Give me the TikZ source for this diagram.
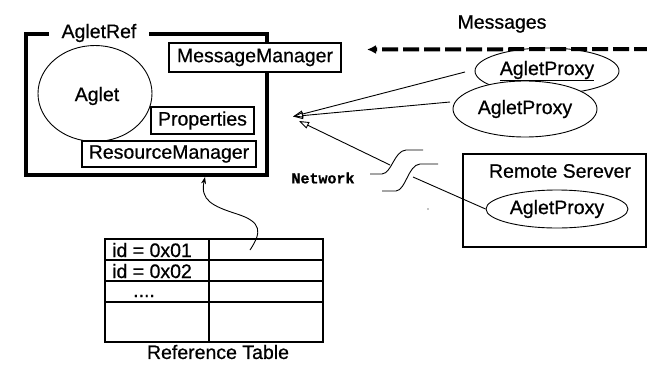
\documentclass[tikz,border=0pt]{standalone}
\usepackage{fontspec}
\setmainfont[FakeBold=0.6]{Liberation Sans}
\newfontfamily\netfont[FakeBold=0.8]{Liberation Mono}
\usetikzlibrary{arrows.meta,shapes.geometric}
\begin{document}
\begin{tikzpicture}[x=1pt,y=-1pt,
  txt/.style={font=\fontsize{19.5}{22}\selectfont, inner sep=0pt},
  box/.style={txt, draw, fill=white, line width=1.3pt, minimum height=27pt},
  prox/.style={ellipse, draw, fill=white, line width=0.9pt, txt, minimum width=144pt},
  thinline/.style={line width=0.9pt},
  openhead/.style={thinline, -{Triangle[open,length=10pt,width=7pt,line width=0.9pt]}}
]
\useasboundingbox (0,0) rectangle (647,364);
\fill[white] (0,0) rectangle (647,364);

% AgletRef frame
\node[draw, line width=4pt, minimum width=241.5pt, minimum height=141.5pt, inner sep=0pt] (agletref) at (146.25,104.25) {};
\node[txt, fill=white, inner xsep=13pt, inner ysep=2pt] (reflabel) at (99,33) {AgletRef};

% Aglet
\node[ellipse, draw, thinline, minimum width=114pt, minimum height=96pt, inner sep=0pt, txt] (aglet) at (95,93.5) {};
\node[txt] (agletlbl) at (97,96) {Aglet};

% managers
\node[box, minimum width=172pt, minimum height=29pt] (msgmgr) at (255,57.5) {MessageManager};
\node[box, minimum width=103pt] (props) at (202.5,120.5) {Properties};
\node[box, minimum width=174pt, minimum height=26pt] (resmgr) at (169,154) {ResourceManager};

% Messages
\node[txt] (msglbl) at (502,24) {Messages};
\node[prox, minimum height=46pt] (p1) at (547,71) {\underline{AgletProxy}};
\coordinate (msgsrc) at (650,49);
\coordinate (msgtip) at (367,49.5);
\draw[line width=4pt, dash pattern=on 16pt off 5pt, -{Latex[length=9pt,width=9pt]}] (msgsrc) -- (msgtip);
\node[prox, minimum height=56pt] (p2) at (525,109) {AgletProxy};

% convergence
\coordinate (tipA) at (293,116.5);
\coordinate (tipB) at (299,121);
\coordinate (p1end) at (465,72);
\coordinate (p2end) at (450,102);
\draw[openhead] (p1end) -- (tipA);
\draw[openhead] (p2end) -- (tipA);

% network break
\draw[thinline] (370,174) -- (382,174) .. controls (392,173) and (394,151) .. (406,150) -- (423,150);
\draw[thinline] (382,191) -- (396,191) .. controls (406,190) and (408,165) .. (420,164) -- (438,164);
\coordinate (brkA) at (390,165);
\coordinate (brkB) at (413,177);
\node[font=\netfont\bfseries\fontsize{15}{17}\selectfont, inner sep=0pt] (netlbl) at (323,178) {Network};

% remote server
\node[draw, line width=1.3pt, minimum width=183pt, minimum height=93pt, inner sep=0pt] (remote) at (554.5,200.5) {};
\node[txt] (remotelbl) at (560,171) {Remote Serever};
\node[prox, minimum width=142pt, minimum height=38pt] (p3) at (557,209) {AgletProxy};
\draw[openhead] (brkA) -- (tipB);
\draw[thinline] (p3.west) -- (brkB);
\fill (428,209) circle (0.7pt);

% reference table
\node[draw, line width=1.1pt, minimum width=218pt, minimum height=103pt, inner sep=0pt] (reftable) at (214,290.5) {};
\draw[line width=1.1pt] (209,239) -- (209,342);
\draw[line width=1.1pt] (105,260) -- (323,260);
\draw[line width=1.1pt] (105,281) -- (323,281);
\draw[line width=1.1pt] (105,302) -- (323,302);
\node[txt, anchor=base west] (id1) at (112,257) {id = 0x01};
\node[txt, anchor=base west] (id2) at (112,278) {id = 0x02};
\node[txt, anchor=base west] (dots) at (133,297) {....};
\node[txt] (tbllbl) at (218,352) {Reference Table};

% wavy reference arrow
\coordinate (refsrc) at (250,250);
\coordinate (reftip) at (205,177);
\draw[thinline, -{Stealth[length=7pt,width=5pt]}] (refsrc) .. controls (262,232) and (262,222) .. (237,214) .. controls (212,206) and (200,200) .. (reftip);
\end{tikzpicture}
\end{document}
